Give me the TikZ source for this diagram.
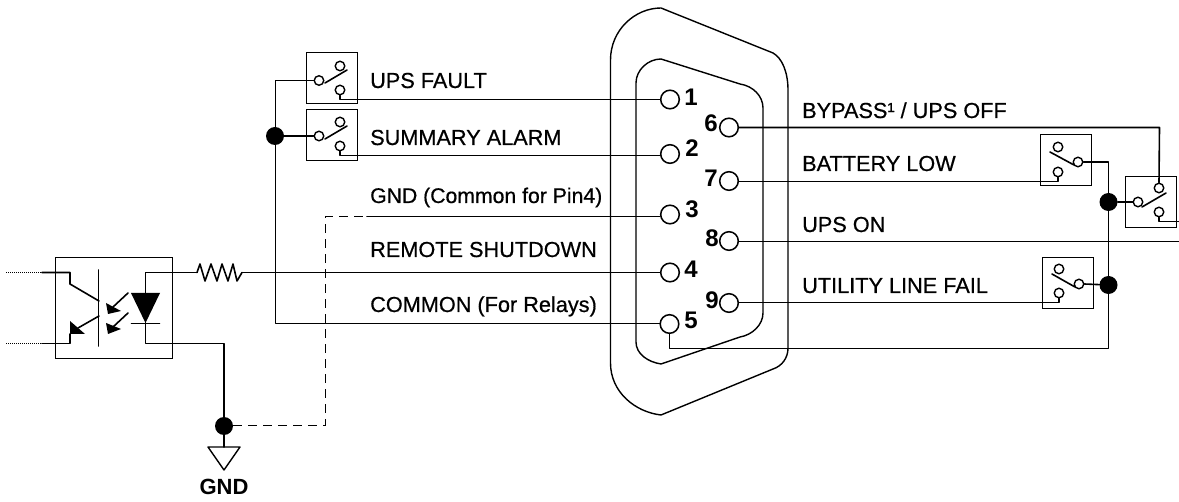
\documentclass[tikz,border=0pt]{standalone}
\usepackage{fontspec}
\setmainfont{Liberation Sans}
\newfontfamily\lblfont[FakeBold=0.6]{Liberation Sans}
\tikzset{
  wire/.style={line width=1.6pt,black,line cap=round,line join=round},
  thin wire/.style={line width=1.4pt,black,line join=round},
  pin/.style={circle,draw=black,line width=1.5pt,fill=white,minimum size=18.6pt,inner sep=0pt},
  contact/.style={circle,draw=black,line width=1.4pt,fill=white,minimum size=9.5pt,inner sep=0pt},
  junction/.style={circle,fill=black,minimum size=18pt,inner sep=0pt},
  relay/.style={rectangle,draw=black,line width=1.6pt,minimum width=51pt,minimum height=51pt,inner sep=0pt,outer sep=0pt},
  label text/.style={font=\lblfont\fontsize{21.7}{23}\selectfont,anchor=base west,inner sep=0pt,text=black},
  pin text/.style={font=\fontsize{24}{25}\selectfont\bfseries,anchor=center,inner sep=0pt,text=black}
}
\begin{document}
\begin{tikzpicture}[x=1pt,y=-1pt]
\useasboundingbox (0,0) rectangle (1179,502);
% connector shell
\draw[thin wire] (610.5,60) .. controls (610.5,30) and (635,8) .. (661,8) -- (773,53) .. controls (782,58) and (788,72) .. (788,90) -- (788,348) .. controls (788,358) and (782,366) .. (773,369) -- (661,415) .. controls (635,412) and (610.5,392) .. (610.5,363) -- cycle;
\draw[thin wire] (636,83) .. controls (636,70) and (648,59) .. (661,59) -- (740,84) .. controls (753,86) and (763,96) .. (763,108) -- (763,313) .. controls (763,325) and (752,335) .. (740,337) -- (661,364) .. controls (648,362) and (636,354) .. (636,342) -- cycle;
% wires
\coordinate (b1) at (275.5,80.5);
\coordinate (b2) at (275.5,323.5);
\node[junction] (jleft) at (275,136) {};
% relays
\node[relay] (r1) at (332,78) {};
\node[relay] (r2) at (332,135) {};
\node[relay] (r3) at (1066,160) {};
\node[relay] (r4) at (1068,283) {};
\node[relay] (r5) at (1151,202) {};
% pins
\node[pin] (p1) at (670,99.5) {};
\node[pin] (p2) at (670,154) {};
\node[pin] (p3) at (670,214.5) {};
\node[pin] (p4) at (670,272.5) {};
\node[pin] (p5) at (669.5,324) {};
\node[pin] (p6) at (729,127.5) {};
\node[pin] (p7) at (729,181) {};
\node[pin] (p8) at (729,241) {};
\node[pin] (p9) at (729,303) {};
% contacts
\node[contact] (c1) at (319,80.5) {};
\node[contact] (t1) at (340,66) {};
\node[contact] (o1) at (340,90) {};
\node[contact] (c2) at (319,136) {};
\node[contact] (t2) at (340,122) {};
\node[contact] (o2) at (340,146) {};
\node[contact] (c3) at (1078,162) {};
\node[contact] (t3) at (1058,147) {};
\node[contact] (o3) at (1058,172) {};
\node[contact] (c4) at (1079,284) {};
\node[contact] (t4) at (1059,269) {};
\node[contact] (o4) at (1059,293) {};
\node[contact] (c5) at (1138,202) {};
\node[contact] (t5) at (1159,188) {};
\node[contact] (o5) at (1159,212) {};
\node[junction] (jr1) at (1108.5,202) {};
\node[junction] (jr2) at (1108.5,285) {};
\node[junction] (jg) at (224,426) {};
% levers
\draw[wire] (325,83) -- (347,70);
\draw[wire] (325,139) -- (347,126);
\draw[wire] (1050,152) -- (1074,165);
\draw[wire] (1052,274) -- (1075,287);
\draw[wire] (1142,207) -- (1166,193);
% wiring
\draw[wire] (c1.west) -- (b1) -- (b2) -- (p5.west |- b2);
\draw[wire] (jleft) -- (c2.west);
\coordinate (w1) at (340,99.5);
\coordinate (w2) at (340,155.5);
\draw[wire] (o1.south) -- (w1) -- (p1.west);
\draw[wire] (o2.south) -- (w2) -- (p2.west |- w2);
\coordinate (w3a) at (325.5,216.5);
\coordinate (w3b) at (367,216.5);
\draw[line width=1.5pt,dash pattern=on 9pt off 6pt] (jg.east |- 0,425.5) -- (325.5,425.5) -- (w3a) -- (w3b);
\draw[wire] (w3b) -- (p3.west |- w3b);
\coordinate (r1in) at (197,272.5);
\coordinate (r1out) at (242,272.5);
\draw[wire] (r1out) -- (p4.west);
\draw[wire] (r1in) -- (200,264) -- (205,281) -- (211,264) -- (217,281) -- (222,264) -- (228,281) -- (233,264) -- (237,281) -- (r1out);
\draw[wire] (p6.east) -- (1159.5,127.5) -- (t5.north);
\coordinate (w7) at (1058,181.5);
\draw[wire] (p7.east |- w7) -- (w7) -- (o3.south);
\coordinate (w8) at (1179,241.5);
\draw[wire] (p8.east |- w8) -- (w8);
\coordinate (w9) at (1059,302.5);
\draw[wire] (p9.east |- w9) -- (w9) -- (o4.south);
\draw[wire] (c3.east) -- (1108.5,162) -- (1108.5,348.5) -- (669.5,348.5) -- (p5.south);
\draw[wire] (jr1) -- (c5.west);
\draw[wire] (jr2) -- (c4.east);
\coordinate (w10) at (1179,221.5);
\draw[wire] (o5.south) -- (1159,221.5) -- (w10);
% optocoupler
\node[rectangle,draw=black,line width=1.6pt,minimum width=117pt,minimum height=101pt,inner sep=0pt,outer sep=0pt] (opto) at (114,308) {};
\coordinate (d1) at (6,272.5);
\coordinate (d1e) at (42,272.5);
\coordinate (d2) at (6,343.5);
\coordinate (d2e) at (42,343.5);
\draw[line width=1.5pt,dash pattern=on 1.3pt off 0.7pt] (d1) -- (d1e);
\draw[line width=1.5pt,dash pattern=on 1.3pt off 0.7pt] (d2) -- (d2e);
\draw[wire] (d1e) -- (70,272.5) -- (70,284) -- (99,301);
\draw[wire] (98.5,270) -- (98.5,346);
\draw[wire] (99,316) -- (78,328);
\fill (70,321) -- (85,334) -- (70,334) -- cycle;
\draw[wire] (70,334) -- (70,343.5) -- (d2e);
\draw[wire] (128,293) -- (113,307);
\fill (106,303) -- (121,311) -- (108,314) -- cycle;
\draw[wire] (128,313) -- (113,327);
\fill (106,323) -- (121,329) -- (108,334) -- cycle;
\draw[wire] (r1in) -- (145.5,272.5) -- (145.5,343.5) -- (224,343.5) -- (jg);
\fill (131,293) -- (160,293) -- (145.5,323) -- cycle;
\draw[wire] (131.5,323.5) -- (159.5,323.5);
% ground
\coordinate (g0) at (224,447);
\draw[wire] (jg) -- (g0);
\draw[thin wire] (208,447) -- (240,447) -- (224,470) -- cycle;
\node[font=\fontsize{22}{23}\selectfont\bfseries,inner sep=0pt] (gndt) at (224,487) {GND};
% labels
\node[label text] (l1) at (370,88) {UPS FAULT};
\node[label text] (l2) at (370,145) {SUMMARY ALARM};
\node[label text,font=\lblfont\fontsize{21.2}{23}\selectfont] (l3) at (370,203) {GND (Common for Pin4)};
\node[label text] (l4) at (370,257) {REMOTE SHUTDOWN};
\node[label text] (l5) at (370,312) {COMMON (For Relays)};
\node[label text] (l6) at (802,118) {BYPASS¹ / UPS OFF};
\node[label text] (l7) at (802,171) {BATTERY LOW};
\node[label text] (l8) at (802,232) {UPS ON};
\node[label text] (l9) at (802,293) {UTILITY LINE FAIL};
% pin numbers
\node[pin text] (n1) at (691,97) {1};
\node[pin text] (n2) at (692,148) {2};
\node[pin text] (n3) at (692,209) {3};
\node[pin text] (n4) at (691,269) {4};
\node[pin text] (n5) at (691,320) {5};
\node[pin text] (n6) at (711,123) {6};
\node[pin text] (n7) at (711,178) {7};
\node[pin text] (n8) at (712,238) {8};
\node[pin text] (n9) at (712,300) {9};
\end{tikzpicture}
\end{document}
